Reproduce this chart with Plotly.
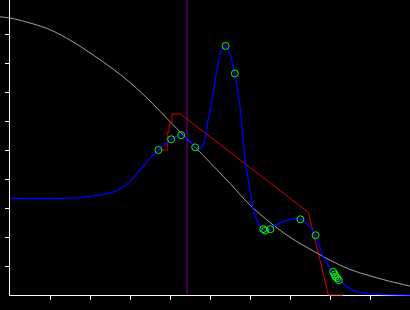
import plotly.graph_objects as go

# ---- data (x: 40 px per unit from axis, y: 29 px per unit from axis) ----
tick_vals = [1, 2, 3, 4, 5, 6, 7, 8, 9]

gray_x = [-0.25, 0.0, 0.5, 1.0, 1.5, 2.0, 2.5, 3.0, 3.5, 4.0, 4.5, 5.0, 5.5,
          6.0, 6.5, 7.0, 7.5, 8.0, 8.5, 9.0, 9.5, 10.0]
gray_y = [9.59, 9.55, 9.38, 9.15, 8.79, 8.35, 7.87, 7.33, 6.69, 5.98, 5.28, 4.57,
          3.85, 3.10, 2.50, 1.99, 1.58, 1.20, 0.88, 0.66, 0.47, 0.31]

blue_x = [0.0, 1.375, 1.75, 2.0, 2.25, 2.5, 2.75, 3.0, 3.25, 3.5, 3.71, 3.875,
          4.03, 4.15, 4.28, 4.45, 4.63, 4.75, 4.85, 4.95, 5.05, 5.125, 5.225,
          5.325, 5.39, 5.475, 5.54, 5.62, 5.75, 5.88, 6.0, 6.08, 6.21, 6.3,
          6.4, 6.51, 6.58, 6.83, 7.08, 7.26, 7.42, 7.64, 7.83, 8.0, 8.14,
          8.42, 8.67, 9.08, 10.0]
blue_y = [3.33, 3.33, 3.36, 3.40, 3.45, 3.51, 3.66, 3.91, 4.31, 4.72, 5.00, 5.21,
          5.37, 5.47, 5.51, 5.38, 5.09, 5.05, 5.24, 6.03, 6.72, 7.34, 8.17,
          8.52, 8.59, 8.41, 8.10, 7.64, 6.49, 4.66, 3.62, 2.93, 2.47, 2.28,
          2.22, 2.27, 2.36, 2.53, 2.63, 2.61, 2.47, 2.06, 1.32, 0.92, 0.63,
          0.29, 0.11, 0.03, 0.0]

red_x = [3.71, 3.93, 3.93, 3.98, 3.98, 4.05, 4.05, 4.26, 7.46, 7.96, 8.32]
red_y = [5.00, 5.00, 5.62, 5.62, 5.91, 5.91, 6.24, 6.24, 2.85, 0.0, 0.0]

pts_x = [3.71, 4.03, 4.28, 4.63, 5.39, 5.62, 6.33, 6.38, 6.51, 7.26, 7.64,
         8.08, 8.12, 8.14, 8.18, 8.22]
pts_y = [5.00, 5.37, 5.51, 5.09, 8.59, 7.64, 2.27, 2.22, 2.27, 2.61, 2.06,
         0.80, 0.71, 0.63, 0.58, 0.51]

vline_x = 4.425

W, H = 410, 310
AX_X_PX, AX_Y_PX = 10, 295
X_MIN, X_MAX = -0.25, 10.0
Y_MIN, Y_MAX = -(H - AX_Y_PX) / 29.0, AX_Y_PX / 29.0

fig = go.Figure()

# placeholder so the axis-only subplot (x, y) is drawn first, below the data
fig.add_trace(go.Scatter(x=[None], y=[None], mode="lines", xaxis="x", yaxis="y",
                         showlegend=False, hoverinfo="skip"))

fig.add_trace(go.Scatter(x=gray_x, y=gray_y, mode="lines", xaxis="x2", yaxis="y2",
                         line=dict(color="#a0a0a0", width=1, shape="spline"),
                         showlegend=False, hoverinfo="skip"))
fig.add_trace(go.Scatter(x=red_x, y=red_y, mode="lines", xaxis="x2", yaxis="y2",
                         line=dict(color="#dd0000", width=1),
                         showlegend=False, hoverinfo="skip"))
fig.add_trace(go.Scatter(x=blue_x, y=blue_y, mode="lines", xaxis="x2", yaxis="y2",
                         line=dict(color="#0000ff", width=1.3, shape="spline", smoothing=0.5),
                         showlegend=False, hoverinfo="skip"))
fig.add_trace(go.Scatter(x=pts_x, y=pts_y, mode="markers", xaxis="x2", yaxis="y2",
                         marker=dict(symbol="circle-open", color="#00ff00", size=7,
                                     line=dict(width=1, color="#00ff00")),
                         showlegend=False, hoverinfo="skip"))

fig.add_shape(type="line", xref="x2", yref="y2", x0=vline_x, x1=vline_x,
              y0=0, y1=Y_MAX, line=dict(color="#80009f", width=1), layer="below")

axis_common = dict(showline=True, linecolor="white", linewidth=1, ticks="outside",
                   ticklen=4, tickwidth=1, tickcolor="white", tickvals=tick_vals,
                   showticklabels=False, showgrid=False, zeroline=False)

fig.update_layout(
    width=W, height=H,
    margin=dict(l=0, r=0, t=0, b=0),
    paper_bgcolor="black", plot_bgcolor="rgba(0,0,0,0)",
    xaxis=dict(domain=[AX_X_PX / W, 1], range=[0, X_MAX], anchor="y", **axis_common),
    yaxis=dict(domain=[(H - AX_Y_PX) / H, 1], range=[0, Y_MAX], anchor="x", **axis_common),
    xaxis2=dict(domain=[0, 1], range=[X_MIN, X_MAX], anchor="y2", visible=False),
    yaxis2=dict(domain=[0, 1], range=[Y_MIN, Y_MAX], anchor="x2", visible=False),
)

fig.write_html("out.html")
